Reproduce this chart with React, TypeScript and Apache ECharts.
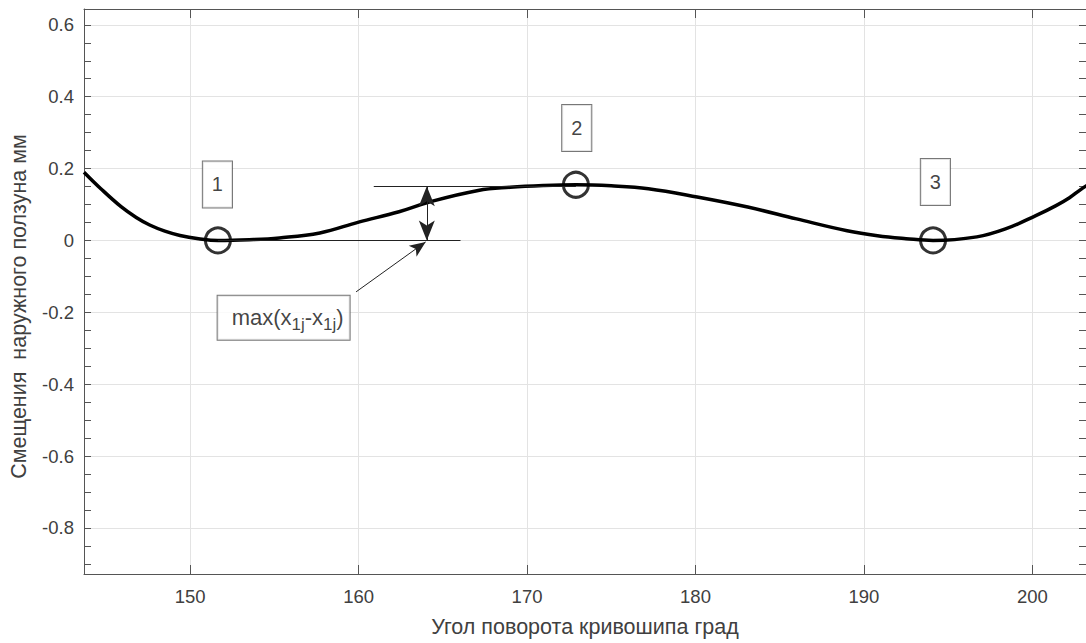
import React, { useEffect, useRef } from 'react';
import * as echarts from 'echarts';

// Curve: crank angle (deg) vs slider displacement (mm)
const curveX = [143.7, 144.7, 145.9, 146.8, 147.6, 148.5, 149.4, 150.5, 151.65, 153.5, 155.3, 157.7, 160.0, 162.4, 164.2, 167.1, 169.0, 171.0, 172.9, 175.0, 177.2, 180.1, 183.1, 186.0, 189.0, 190.8, 192.5, 194.1, 196.7, 198.4, 200.2, 201.4, 202.2, 202.9, 203.3];
const curveY = [0.190, 0.144, 0.094, 0.064, 0.043, 0.026, 0.014, 0.005, 0.000, 0.002, 0.007, 0.021, 0.051, 0.080, 0.107, 0.139, 0.148, 0.153, 0.155, 0.152, 0.144, 0.121, 0.093, 0.060, 0.027, 0.013, 0.005, 0.000, 0.010, 0.032, 0.069, 0.097, 0.119, 0.143, 0.155];

// circled extremum points
const markerX = [151.65, 172.9, 194.1];
const markerY = [0, 0.155, 0];

// numbered boxes
const boxText = ['1', '2', '3'];
const boxX = [151.62, 172.95, 194.24];
const boxY = [0.156, 0.313, 0.163];

// formula annotation
const formulaX = 155.55;
const formulaY = -0.215;

// dimension lines
const topLevel = 0.151;
const topLineX = [160.9, 172.9];
const bottomLineX = [151.65, 166.05];
const arrowX = 164.05;
const leaderFrom = [159.85, -0.143];
const leaderTo = [163.98, -0.004];

const xMin = 143.7;
const xMax = 203.18;
const yMin = -0.928;
const yMax = 0.644;
const xTicks = [150, 160, 170, 180, 190, 200];
const yTicks = [-0.8, -0.6, -0.4, -0.2, 0, 0.2, 0.4, 0.6];
const yMinorTicks = [-0.9, -0.85, -0.8, -0.75, -0.7, -0.65, -0.6, -0.55, -0.5, -0.45, -0.4, -0.35, -0.3, -0.25, -0.2, -0.15, -0.1, -0.05, 0, 0.05, 0.1, 0.15, 0.2, 0.25, 0.3, 0.35, 0.4, 0.45, 0.5, 0.55, 0.6];

const FONT = 'Liberation Sans, Arial, sans-serif';
const AXIS_COLOR = '#555555';
const TEXT_COLOR = '#404040';

export default function App() {
  const ref = useRef<HTMLDivElement>(null);
  useEffect(() => {
    document.body.style.margin = '0';
    document.body.style.overflow = 'hidden';
    const chart = echarts.init(ref.current!, undefined, { renderer: 'svg' });
    const curve = curveX.map((x, i) => [x, curveY[i]]);
    const markers = markerX.map((x, i) => [x, markerY[i]]);
    const boxes = boxX.map((x, i) => ({ value: [x, boxY[i]], name: boxText[i] }));

    const tickCommon = { show: true, inside: true, lineStyle: { color: AXIS_COLOR, width: 1 } };
    const lineCommon = { show: true, onZero: false, lineStyle: { color: AXIS_COLOR, width: 1 } };
    const gridLine = { show: true, lineStyle: { color: '#e3e3e3', width: 1 } };

    chart.setOption({
      animation: false,
      backgroundColor: '#ffffff',
      textStyle: { fontFamily: FONT },
      grid: { left: 83, right: -4, top: 9, bottom: 67, containLabel: false },
      xAxis: [
        {
          type: 'value', position: 'bottom', min: xMin, max: xMax, splitNumber: 6,
          axisLine: lineCommon,
          axisTick: { ...tickCommon, length: 9, customValues: xTicks },
          axisLabel: { customValues: xTicks, color: TEXT_COLOR, fontSize: 18.5, margin: 13, fontFamily: FONT },
          splitLine: gridLine,
          name: 'Угол поворота кривошипа град',
          nameLocation: 'middle', nameGap: 42,
          nameTextStyle: { color: TEXT_COLOR, fontSize: 21.5, fontFamily: FONT },
        },
        {
          type: 'value', position: 'top', min: xMin, max: xMax, splitNumber: 6,
          axisLine: lineCommon,
          axisTick: { ...tickCommon, length: 9, customValues: xTicks },
          axisLabel: { show: false },
          splitLine: { show: false },
        },
      ],
      yAxis: [
        {
          type: 'value', position: 'left', min: yMin, max: yMax, splitNumber: 8,
          axisLine: lineCommon,
          axisTick: { ...tickCommon, length: 7, customValues: yTicks },
          axisLabel: { customValues: yTicks, color: TEXT_COLOR, fontSize: 18.5, margin: 10, fontFamily: FONT },
          splitLine: gridLine,
          name: 'Смещения  наружного ползуна мм',
          nameLocation: 'middle', nameGap: 54,
          nameTextStyle: { color: TEXT_COLOR, fontSize: 21.5, fontFamily: FONT, padding: [0, 30, 0, 0] },
        },
        {
          type: 'value', position: 'right', min: yMin, max: yMax, splitNumber: 8,
          axisLine: lineCommon,
          axisTick: { ...tickCommon, length: 7, customValues: yMinorTicks },
          axisLabel: { show: false },
          splitLine: { show: false },
        },
        {
          type: 'value', position: 'left', min: yMin, max: yMax, splitNumber: 8,
          axisLine: { show: false },
          axisTick: { ...tickCommon, length: 7, customValues: yMinorTicks },
          axisLabel: { show: false },
          splitLine: { show: false },
        },
      ],
      series: [
        {
          type: 'line', name: 'curve', data: curve, smooth: 0.4, symbol: 'none',
          clip: true, silent: true,
          lineStyle: { color: '#000', width: 3.5 },
          markLine: {
            silent: true, animation: false,
            symbol: ['none', 'none'],
            label: { show: false },
            lineStyle: { type: 'solid', color: '#222', width: 1 },
            data: [
              [{ coord: [topLineX[0], topLevel] }, { coord: [topLineX[1], topLevel] }],
              [{ coord: [bottomLineX[0], 0] }, { coord: [bottomLineX[1], 0] }],
              [
                { coord: [arrowX, topLevel], symbol: 'arrow', symbolSize: [12, 20] },
                { coord: [arrowX, 0], symbol: 'arrow', symbolSize: [12, 20] },
              ],
              [
                { coord: leaderFrom, symbol: 'none' },
                { coord: leaderTo, symbol: 'arrow', symbolSize: [10, 16] },
              ],
            ],
          },
        },
        {
          type: 'scatter', name: 'markers', data: markers, symbol: 'circle', symbolSize: 25,
          silent: true,
          itemStyle: { color: 'rgba(0,0,0,0)', borderColor: '#000', borderWidth: 3 },
        },
        {
          type: 'scatter', name: 'boxes', data: boxes, symbolSize: 1, silent: true,
          itemStyle: { color: 'rgba(0,0,0,0)' },
          label: {
            show: true, position: 'inside', formatter: '{b}',
            color: '#111', fontSize: 20, fontFamily: FONT,
            backgroundColor: '#ffffff', borderColor: '#555', borderWidth: 1,
            padding: [12, 9, 12, 9], lineHeight: 22,
          },
        },
        {
          type: 'scatter', name: 'formula', data: [[formulaX, formulaY]], symbolSize: 1, silent: true,
          itemStyle: { color: 'rgba(0,0,0,0)' },
          label: {
            show: true, position: 'inside',
            formatter: '{n|max(x}{s|1j}{n|-x}{s|1j}{n|)}',
            backgroundColor: '#ffffff', borderColor: '#555', borderWidth: 1,
            padding: [11, 6, 7, 14],
            rich: {
              n: { fontSize: 22, color: '#111', fontFamily: FONT, lineHeight: 26, verticalAlign: 'top', padding: [0, 0, 8, 0] },
              s: { fontSize: 17, color: '#111', fontFamily: FONT, lineHeight: 20, verticalAlign: 'bottom' },
            },
          },
        },
      ],
    });
    return () => chart.dispose();
  }, []);
  return <div ref={ref} style={{ width: 1086, height: 643 }} />;
}
